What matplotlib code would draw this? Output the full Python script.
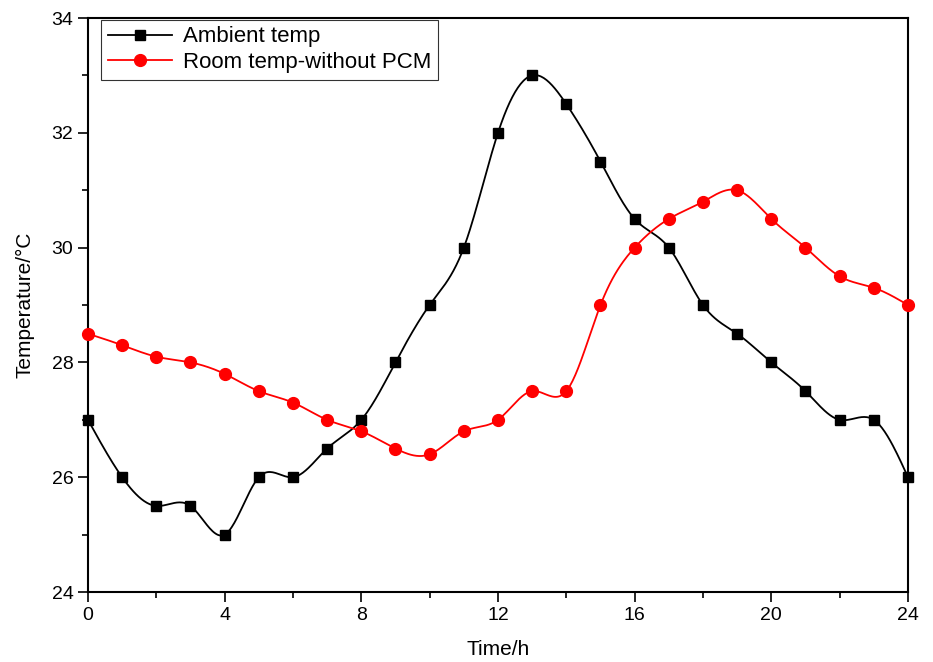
import matplotlib
matplotlib.use('Agg')
import matplotlib.pyplot as plt
import numpy as np

plt.rcParams['font.family'] = ['Liberation Sans', 'DejaVu Sans']

hours = np.arange(0, 25)
ambient = [27, 26, 25.5, 25.5, 25, 26, 26, 26.5, 27, 28, 29, 30, 32, 33, 32.5,
           31.5, 30.5, 30, 29, 28.5, 28, 27.5, 27, 27, 26]
room = [28.5, 28.3, 28.1, 28.0, 27.8, 27.5, 27.3, 27.0, 26.8, 26.5, 26.4, 26.8,
        27.0, 27.5, 27.5, 29.0, 30.0, 30.5, 30.8, 31.0, 30.5, 30.0, 29.5, 29.3, 29.0]


def spline(x, y, n=600):
    # natural cubic spline, only used to draw the smooth connecting line
    x = np.asarray(x, float)
    y = np.asarray(y, float)
    k = len(x)
    h = np.diff(x)
    A = np.zeros((k, k))
    b = np.zeros(k)
    A[0, 0] = A[-1, -1] = 1
    for i in range(1, k - 1):
        A[i, i - 1] = h[i - 1]
        A[i, i] = 2 * (h[i - 1] + h[i])
        A[i, i + 1] = h[i]
        b[i] = 3 * ((y[i + 1] - y[i]) / h[i] - (y[i] - y[i - 1]) / h[i - 1])
    c = np.linalg.solve(A, b)
    xs = np.linspace(x[0], x[-1], n)
    idx = np.clip(np.searchsorted(x, xs) - 1, 0, k - 2)
    dx = xs - x[idx]
    hi = h[idx]
    bb = (y[idx + 1] - y[idx]) / hi - hi * (2 * c[idx] + c[idx + 1]) / 3
    dd = (c[idx + 1] - c[idx]) / (3 * hi)
    ys = y[idx] + bb * dx + c[idx] * dx ** 2 + dd * dx ** 3
    return xs, ys


fig = plt.figure(figsize=(9.33, 6.62), dpi=100)
ax = fig.add_axes([0.0943, 0.1057, 0.8789, 0.8671])

xs, ys = spline(hours, ambient)
ax.plot(xs, ys, color='black', lw=1.3)
ax.plot(hours, ambient, 's', color='black', ms=7.5, clip_on=False, zorder=3)
xs, ys = spline(hours, room)
ax.plot(xs, ys, color='red', lw=1.3)
ax.plot(hours, room, 'o', color='red', ms=8.5, clip_on=False, zorder=3)

# legend proxies
ax.plot([], [], '-s', color='black', lw=1.3, ms=7.5, label='Ambient temp')
ax.plot([], [], '-o', color='red', lw=1.3, ms=8.5, label='Room temp-without PCM')
leg = ax.legend(loc='upper left', bbox_to_anchor=(0.016, 0.997), fontsize=16,
                frameon=True, fancybox=False, edgecolor='black', borderaxespad=0,
                handlelength=2.9, handletextpad=0.5, labelspacing=0.2,
                borderpad=0.3)
leg.get_frame().set_linewidth(0.8)

ax.set_xlim(0, 24)
ax.set_ylim(24, 34)
ax.set_xticks(np.arange(0, 25, 4))
ax.set_xticks(np.arange(0, 25, 2), minor=True)
ax.set_yticks(np.arange(24, 35, 2))
ax.set_yticks(np.arange(24, 35, 1), minor=True)
ax.tick_params(which='both', direction='out', top=False, right=False, labelsize=14)
ax.tick_params(which='major', length=7, width=1.2)
ax.tick_params(which='minor', length=4, width=1.2)
for s in ax.spines.values():
    s.set_linewidth(1.5)

ax.set_xlabel('Time/h', fontsize=15, labelpad=12)
ax.set_ylabel('Temperature/\u00b0C', fontsize=15, labelpad=12)

fig.savefig('out.png', dpi=100)
